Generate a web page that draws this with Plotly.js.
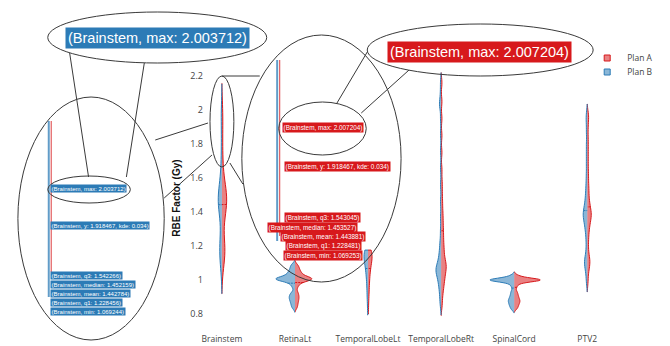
<!DOCTYPE html>
<html>
<head>
<meta charset="utf-8">
<script src="https://cdn.plot.ly/plotly-3.0.1.min.js"></script>
<style>
  html, body { margin: 0; padding: 0; background: #fff; }
  #chart { width: 670px; height: 346px; }
</style>
</head>
<body>
<div id="chart"></div>
<script>
// Structures on the x axis
const organs = ['Brainstem', 'RetinaLt', 'TemporalLobeLt', 'TemporalLobeRt', 'SpinalCord', 'PTV2'];
const planNames = ['Plan A', 'Plan B'];

// RBE factor samples, Plan A
const brainstemA = [1.069253, 1.11, 1.14, 1.16, 1.17, 1.18, 1.20, 1.228481, 1.27, 1.34, 1.39, 1.391393, 1.41, 1.43,
  1.453527, 1.453527, 1.46, 1.48, 1.49, 1.50, 1.52, 1.53, 1.543045, 1.57, 1.61, 1.67, 1.75, 1.85, 1.94, 2.007204];
const retinaLtA = [0.836, 0.852, 0.866, 0.878, 0.889, 0.899, 0.909, 0.92, 0.933, 0.955, 0.968, 0.978, 0.986, 0.992,
  0.996, 1.0, 1.002, 1.004, 1.005, 1.006, 1.007, 1.008, 1.01, 1.012, 1.015, 1.019, 1.023, 1.028, 1.033, 1.039,
  1.045, 1.052, 1.06, 1.069, 1.079, 1.09];
const temporalLobeLtA = [0.8, 0.87, 0.91, 0.94, 0.965, 0.99, 1.01, 1.03, 1.045, 1.06, 1.072, 1.084, 1.095, 1.105,
  1.114, 1.122, 1.13, 1.137, 1.143, 1.149, 1.155, 1.16, 1.164, 1.168, 1.172, 1.176];
const temporalLobeRtA = [0.85, 0.9, 0.935, 0.96, 0.98, 1.0, 1.015, 1.03, 1.045, 1.06, 1.07, 1.08, 1.09, 1.1, 1.115,
  1.13, 1.15, 1.17, 1.19, 1.21, 1.235, 1.26, 1.285, 1.31, 1.34, 1.37, 1.4, 1.44, 1.48, 1.53, 1.58, 1.65, 1.75,
  1.85, 1.95, 2.05, 2.16];
const spinalCordA = [0.83, 0.842, 0.852, 0.861, 0.869, 0.876, 0.883, 0.891, 0.9, 0.91, 0.921, 0.934, 0.955, 0.97,
  0.98, 0.987, 0.992, 0.995, 0.998, 1.0, 1.0, 1.0, 1.0, 1.0, 1.0, 1.0, 1.0, 1.001, 1.003, 1.005, 1.009, 1.014,
  1.02, 1.028];
const ptv2A = [0.99, 1.045, 1.075, 1.095, 1.11, 1.125, 1.15, 1.19, 1.235, 1.27, 1.3, 1.32, 1.34, 1.355, 1.37, 1.38,
  1.39, 1.4, 1.415, 1.43, 1.45, 1.47, 1.5, 1.53, 1.56, 1.6, 1.64, 1.69, 1.74, 1.79, 1.84, 1.9, 1.95, 1.975];

// RBE factor samples, Plan B
const brainstemB = [1.069244, 1.10, 1.13, 1.15, 1.17, 1.19, 1.21, 1.228456, 1.26, 1.33, 1.39, 1.42, 1.43, 1.445524,
  1.452159, 1.452159, 1.46, 1.47, 1.48, 1.50, 1.51, 1.53, 1.542266, 1.57, 1.60, 1.66, 1.74, 1.84, 1.95, 2.003712];
const retinaLtB = [0.834, 0.846, 0.857, 0.867, 0.876, 0.884, 0.891, 0.898, 0.905, 0.912, 0.92, 0.93, 0.955, 0.968,
  0.978, 0.986, 0.992, 0.996, 1.0, 1.002, 1.004, 1.004, 1.005, 1.006, 1.006, 1.008, 1.008, 1.01, 1.013, 1.017,
  1.021, 1.025, 1.03, 1.035, 1.04, 1.046, 1.052, 1.059, 1.067, 1.076, 1.085, 1.094];
const temporalLobeLtB = [0.794, 0.86, 0.9, 0.93, 0.96, 0.985, 1.005, 1.025, 1.04, 1.055, 1.07, 1.08, 1.09, 1.1,
  1.11, 1.12, 1.127, 1.134, 1.14, 1.146, 1.152, 1.157, 1.162, 1.166, 1.17, 1.173, 1.176];
const temporalLobeRtB = [0.854, 0.89, 0.92, 0.945, 0.965, 0.98, 0.995, 1.01, 1.02, 1.03, 1.04, 1.05, 1.055, 1.06,
  1.065, 1.07, 1.08, 1.09, 1.1, 1.115, 1.13, 1.15, 1.17, 1.2, 1.23, 1.29, 1.37, 1.46, 1.56, 1.66, 1.76, 1.86,
  1.95, 2.02, 2.035, 2.05, 2.1, 2.16];
const spinalCordB = [0.826, 0.838, 0.848, 0.856, 0.864, 0.872, 0.878, 0.885, 0.893, 0.902, 0.912, 0.924, 0.936,
  0.955, 0.97, 0.98, 0.987, 0.992, 0.996, 0.998, 1.0, 1.0, 1.0, 1.0, 1.0, 1.0, 1.0, 1.0, 1.002, 1.004, 1.008,
  1.013, 1.02, 1.027];
const ptv2B = [0.99, 1.04, 1.07, 1.09, 1.105, 1.12, 1.14, 1.18, 1.23, 1.27, 1.3, 1.32, 1.34, 1.355, 1.37, 1.38,
  1.39, 1.4, 1.415, 1.43, 1.45, 1.47, 1.5, 1.53, 1.57, 1.62, 1.68, 1.74, 1.8, 1.87, 1.93, 1.975];

// Brainstem summary values shown in the callouts
const brainstemStatsA = { max: 2.007204, y: 1.918467, kde: 0.034, q3: 1.543045, median: 1.453527,
  mean: 1.443881, q1: 1.228481, min: 1.069253 };
const brainstemStatsB = { max: 2.003712, y: 1.918467, kde: 0.034, q3: 1.542266, median: 1.452159,
  mean: 1.442784, q1: 1.228456, min: 1.069244 };

const planA = [brainstemA, retinaLtA, temporalLobeLtA, temporalLobeRtA, spinalCordA, ptv2A];
const planB = [brainstemB, retinaLtB, temporalLobeLtB, temporalLobeRtB, spinalCordB, ptv2B];

// Kernel settings per structure
const bandwidths = [0.075, 0.012, 0.04, 0.03, 0.01, 0.03];
const spanModes = ['soft', 'soft', 'hard', 'soft', 'soft', 'soft'];
// Full violin width (x-axis units) per structure
const widthsA = [0.13, 0.46, 0.11, 0.14, 0.71, 0.11];
const widthsB = [0.10, 0.52, 0.11, 0.14, 0.66, 0.11];

const RED = '#d7191c', BLUE = '#2c7bb6';
const RED_FILL = 'rgba(215,25,28,0.55)', BLUE_FILL = 'rgba(44,123,182,0.55)';

const traces = [];
organs.forEach((organ, i) => {
  [[planA[i], 'Plan A', 'positive', RED, RED_FILL, widthsA[i]],
   [planB[i], 'Plan B', 'negative', BLUE, BLUE_FILL, widthsB[i]]].forEach(([vals, name, side, col, fill, w]) => {
    traces.push({
      type: 'violin', x: vals.map(() => organ), y: vals, name: name, side: side, width: w,
      showlegend: false, bandwidth: bandwidths[i], spanmode: spanModes[i], points: false,
      line: { color: col, width: 1 }, fillcolor: fill,
      meanline: { visible: true, color: col, width: 1 }, hoverinfo: 'skip'
    });
  });
});
// legend entries
traces.push({ type: 'scatter', x: [null], y: [null], mode: 'markers', name: planNames[0], legend: 'legend',
  marker: { symbol: 'square', size: 6, color: RED_FILL, line: { color: RED, width: 1 } } });
traces.push({ type: 'scatter', x: [null], y: [null], mode: 'markers', name: planNames[1], legend: 'legend2',
  marker: { symbol: 'square', size: 6, color: BLUE_FILL, line: { color: BLUE, width: 1 } } });

// page geometry
const W = 670, H = 346;
const M = { l: 207, r: 40, t: 70, b: 20 };
const PW = W - M.l - M.r, PH = H - M.t - M.b;
const fx = x => (x - M.l) / PW;
const fy = y => 1 - (y - M.t) / PH;

const shapes = [];
const ink = '#3a3a3a';
function ellipse(x0, y0, x1, y1) {
  shapes.push({ type: 'circle', xref: 'paper', yref: 'paper', x0: fx(x0), x1: fx(x1), y0: fy(y1), y1: fy(y0),
    line: { color: ink, width: 1 } });
}
function seg(x0, y0, x1, y1, color, width) {
  shapes.push({ type: 'line', xref: 'paper', yref: 'paper', x0: fx(x0), x1: fx(x1), y0: fy(y0), y1: fy(y1),
    line: { color: color || ink, width: width || 1 } });
}

// magnified Brainstem strips
seg(48, 121, 48, 297, 'rgba(44,123,182,0.75)', 2);
seg(50.5, 121, 50.5, 272, 'rgba(215,25,28,0.7)', 1.2);
seg(277.5, 60, 277.5, 241, 'rgba(44,123,182,0.75)', 2);
seg(280, 60, 280, 236, 'rgba(215,25,28,0.7)', 1.2);

// callout outlines
ellipse(47, 12, 267, 63);     // Plan B max, large
ellipse(47, 176, 130, 203);   // Plan B max, small
ellipse(17, 97, 164, 340);    // Plan B magnifier
ellipse(210, 76, 234, 167);   // Brainstem upper tail
ellipse(242, 35, 402, 282);   // Plan A magnifier
ellipse(279, 102, 367, 155);  // Plan A max, small
ellipse(368, 24, 595, 76);    // Plan A max, large
seg(69, 53, 88, 177);
seg(144, 63, 126, 177);
seg(155, 140, 208, 123);
seg(164, 198, 212, 155);
seg(222, 76, 260, 76);
seg(230, 163, 243, 184);
seg(368, 52, 337, 104);
seg(410, 70, 362, 113);

const annotations = [];
function tag(text, x, y, bg, size, anchor) {
  annotations.push({ xref: 'paper', yref: 'paper', x: fx(x), y: fy(y), xanchor: anchor || 'left', yanchor: 'middle',
    text: text, showarrow: false, bgcolor: bg, borderpad: size > 10 ? 2 : 0.6,
    font: { family: 'Arial, Liberation Sans, sans-serif', size: size, color: '#fff' } });
}
const fmt = (k, v) => '(Brainstem, ' + k + ': ' + v + ')';
// Plan B labels
tag(fmt('max', brainstemStatsB.max.toFixed(6)), 157.5, 37.5, BLUE, 14.5, 'center');
tag(fmt('max', brainstemStatsB.max.toFixed(6)), 49, 188.5, BLUE, 6);
tag('(Brainstem, y: ' + brainstemStatsB.y.toFixed(6) + ', kde: ' + brainstemStatsB.kde.toFixed(3) + ')', 49, 225, BLUE, 6);
tag(fmt('q3', brainstemStatsB.q3.toFixed(6)), 49, 275.5, BLUE, 6);
tag(fmt('median', brainstemStatsB.median.toFixed(6)), 49, 284, BLUE, 6);
tag(fmt('mean', brainstemStatsB.mean.toFixed(6)), 49, 293, BLUE, 6);
tag(fmt('q1', brainstemStatsB.q1.toFixed(6)), 49, 302, BLUE, 6);
tag(fmt('min', brainstemStatsB.min.toFixed(6)), 49, 311, BLUE, 6);
// Plan A labels
tag(fmt('max', brainstemStatsA.max.toFixed(6)), 481, 52, RED, 14.5, 'center');
tag(fmt('max', brainstemStatsA.max.toFixed(6)), 282, 127, RED, 6.4);
tag('(Brainstem, y: ' + brainstemStatsA.y.toFixed(6) + ', kde: ' + brainstemStatsA.kde.toFixed(3) + ')', 284, 166.5, RED, 6.4);
tag(fmt('q3', brainstemStatsA.q3.toFixed(6)), 284, 217.5, RED, 6.4);
tag(fmt('median', brainstemStatsA.median.toFixed(6)), 267, 227, RED, 6.4);
tag(fmt('mean', brainstemStatsA.mean.toFixed(6)), 280, 236.5, RED, 6.4);
tag(fmt('q1', brainstemStatsA.q1.toFixed(6)), 285, 245.5, RED, 6.4);
tag(fmt('min', brainstemStatsA.min.toFixed(6)), 283, 255.5, RED, 6.4);

const layout = {
  width: W, height: H, margin: M,
  paper_bgcolor: '#fff', plot_bgcolor: '#fff',
  font: { family: 'Open Sans, Arial, sans-serif', color: '#444' },
  violinmode: 'overlay',
  xaxis: { type: 'category', categoryorder: 'array', categoryarray: organs, range: [-0.204, 5.558],
    showgrid: false, zeroline: false, showline: false, ticks: '', ticklabelstandoff: 6, tickfont: { size: 8.5 } },
  yaxis: { range: [0.7294, 2.2353], dtick: 0.2, tick0: 0, showgrid: false, zeroline: false, showline: false,
    ticks: '', ticklabelstandoff: 3, tickfont: { size: 9 },
    title: { text: '<b>RBE Factor (Gy)</b>', standoff: 7,
      font: { size: 10, family: 'Arial, Liberation Sans, sans-serif', color: '#111' } } },
  legend: { x: fx(589), y: fy(43.5), xanchor: 'left', yanchor: 'top', font: { size: 8.5 }, bgcolor: 'rgba(0,0,0,0)' },
  legend2: { x: fx(589), y: fy(57.5), xanchor: 'left', yanchor: 'top', font: { size: 8.5 }, bgcolor: 'rgba(0,0,0,0)' },
  shapes: shapes, annotations: annotations, hovermode: false
};

Plotly.newPlot('chart', traces, layout, { displayModeBar: false, staticPlot: true });
</script>
</body>
</html>
